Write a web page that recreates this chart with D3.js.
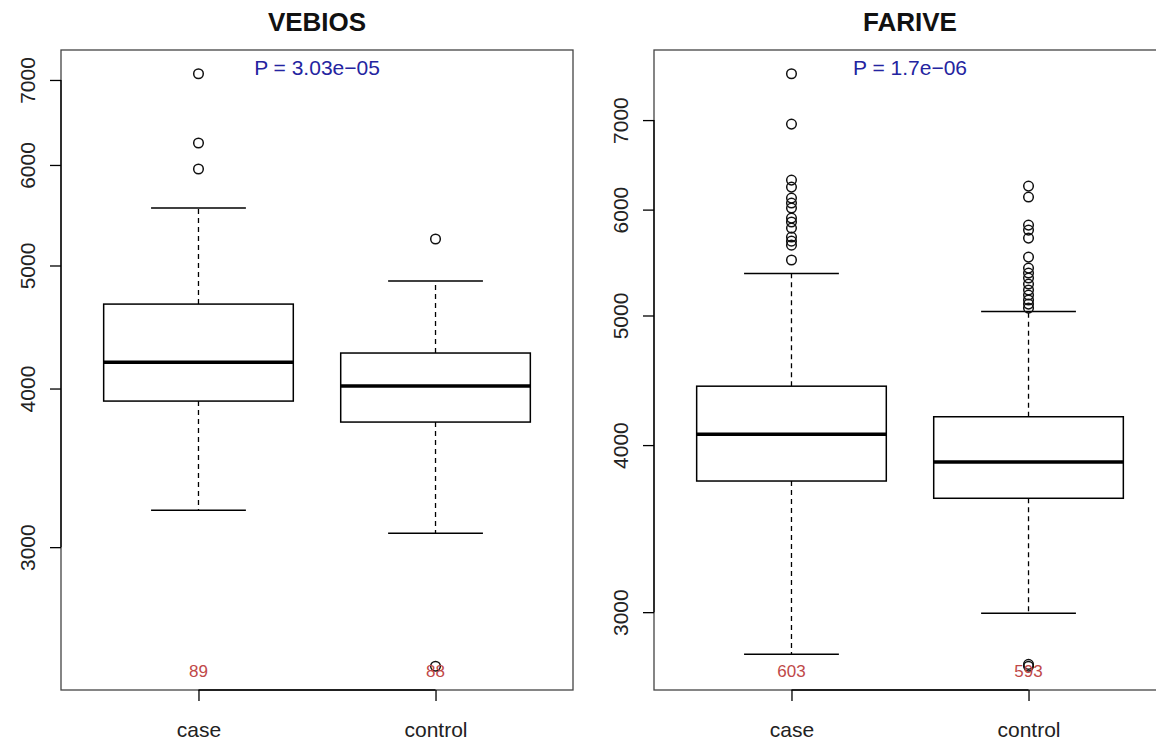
<!DOCTYPE html>
<html>
<head>
<meta charset="utf-8">
<script src="https://cdn.jsdelivr.net/npm/d3@7"></script>
<style>
  body { margin: 0; background: #fff; }
  svg { display: block; font-family: "Liberation Sans", Arial, sans-serif; }
</style>
</head>
<body>
<div class="main"></div>
<script>
// groups on the x axis
let groups = ['case', 'control'];

// five number summaries [lower whisker, Q1, median, Q3, upper whisker] per group
let vebiosStats = [[3208, 3910, 4196, 4662, 5549], [3077, 3764, 4018, 4266, 4861]];
let vebiosOutliers = [[7080, 6244, 5956], [5246, 2417]];
let vebiosN = [89, 88];

let fariveStats = [[2790, 3760, 4076, 4427, 5376], [2995, 3650, 3885, 4200, 5035]];
let fariveOutliers = [
  [7582, 6952, 6313, 6237, 6120, 6068, 6016, 5913, 5873, 5812, 5723, 5683, 5644, 5501],
  [6248, 6131, 5842, 5792, 5713, 5529, 5425, 5379, 5333, 5278, 5224, 5179, 5135, 5099, 5064, 2742, 2733]
];
let fariveN = [603, 593];

let titles = ['VEBIOS', 'FARIVE'];
let pLabels = ['P = 3.03e\u221205', 'P = 1.7e\u221206'];
let yTicks = [3000, 4000, 5000, 6000, 7000];

let svg = d3.select('.main').append('svg')
            .attr('width', 1156)
            .attr('height', 742);

let drawPanel = function(left, title, pLabel, stats, outliers, counts) {
  let top = 50, bottom = 690, width = 512;
  let g = svg.append('g');

  // R style: data range extended 4% on the log scale
  let all = d3.merge(stats.concat(outliers));
  let lo = Math.log(d3.min(all)), hi = Math.log(d3.max(all));
  let pad = (hi - lo) * 0.04;
  let y = d3.scaleLog()
            .domain([Math.exp(lo - pad), Math.exp(hi + pad)])
            .range([bottom, top]);
  let x = d3.scaleLinear()
            .domain([0.42, 2.58])
            .range([left, left + width]);
  let boxW = x(1.4) - x(1);

  // frame
  g.append('rect')
   .attr('x', left).attr('y', top)
   .attr('width', width).attr('height', bottom - top)
   .attr('fill', 'none')
   .attr('stroke', '#444')
   .attr('stroke-width', 1.3);

  // y axis
  let yAxis = d3.axisLeft(y)
                .tickValues(yTicks)
                .tickFormat(d3.format('d'))
                .tickSize(11)
                .tickSizeOuter(0);
  let ya = g.append('g')
            .attr('transform', 'translate(' + left + ',0)')
            .call(yAxis);
  ya.select('.domain')
    .attr('d', 'M0,' + y(yTicks[0]) + 'V' + y(yTicks[yTicks.length - 1]))
    .attr('stroke', '#000').attr('stroke-width', 1.3);
  ya.selectAll('.tick line').attr('stroke', '#000').attr('stroke-width', 1.3);
  ya.selectAll('.tick text')
    .attr('x', null).attr('dy', null)
    .attr('transform', 'translate(-26,0) rotate(-90)')
    .attr('text-anchor', 'middle')
    .attr('font-size', 21)
    .attr('fill', '#222');

  // x axis
  let xAxis = d3.axisBottom(x)
                .tickValues([1, 2])
                .tickFormat((d, i) => groups[i])
                .tickSize(11)
                .tickSizeOuter(0);
  let xa = g.append('g')
            .attr('transform', 'translate(0,' + bottom + ')')
            .call(xAxis);
  xa.select('.domain')
    .attr('d', 'M' + x(1) + ',0H' + x(2))
    .attr('stroke', '#000').attr('stroke-width', 1.5);
  xa.selectAll('.tick line').attr('stroke', '#000').attr('stroke-width', 1.3);
  xa.selectAll('.tick text')
    .attr('y', 47).attr('dy', null)
    .attr('font-size', 21)
    .attr('fill', '#222');

  // boxes
  let boxes = g.selectAll('.box').data(stats).enter().append('g')
               .attr('class', 'box');

  boxes.append('line')
       .attr('x1', (d, i) => x(i + 1)).attr('x2', (d, i) => x(i + 1))
       .attr('y1', d => y(d[3])).attr('y2', d => y(d[4]))
       .attr('stroke', '#000').attr('stroke-width', 1.3)
       .attr('stroke-dasharray', '5,4');
  boxes.append('line')
       .attr('x1', (d, i) => x(i + 1)).attr('x2', (d, i) => x(i + 1))
       .attr('y1', d => y(d[1])).attr('y2', d => y(d[0]))
       .attr('stroke', '#000').attr('stroke-width', 1.3)
       .attr('stroke-dasharray', '5,4');

  // whisker caps
  [0, 4].forEach(k => {
    boxes.append('line')
         .attr('x1', (d, i) => x(i + 1) - boxW / 2).attr('x2', (d, i) => x(i + 1) + boxW / 2)
         .attr('y1', d => y(d[k])).attr('y2', d => y(d[k]))
         .attr('stroke', '#000').attr('stroke-width', 1.5);
  });

  boxes.append('rect')
       .attr('x', (d, i) => x(i + 1) - boxW)
       .attr('y', d => y(d[3]))
       .attr('width', boxW * 2)
       .attr('height', d => y(d[1]) - y(d[3]))
       .attr('fill', '#fff')
       .attr('stroke', '#000').attr('stroke-width', 1.5);

  boxes.append('line')
       .attr('x1', (d, i) => x(i + 1) - boxW).attr('x2', (d, i) => x(i + 1) + boxW)
       .attr('y1', d => y(d[2])).attr('y2', d => y(d[2]))
       .attr('stroke', '#000').attr('stroke-width', 3.5);

  // outliers
  outliers.forEach((arr, i) => {
    g.selectAll('.out' + i).data(arr).enter().append('circle')
     .attr('class', 'out' + i)
     .attr('cx', x(i + 1))
     .attr('cy', d => y(d))
     .attr('r', 4.8)
     .attr('fill', 'none')
     .attr('stroke', '#111')
     .attr('stroke-width', 1.5);
  });

  // group sizes
  g.selectAll('.count').data(counts).enter().append('text')
   .attr('class', 'count')
   .attr('x', (d, i) => x(i + 1))
   .attr('y', 677)
   .attr('text-anchor', 'middle')
   .attr('font-size', 17)
   .attr('fill', '#c04848')
   .text(d => d);

  // titles
  g.append('text')
   .attr('x', left + width / 2).attr('y', 31)
   .attr('text-anchor', 'middle')
   .attr('font-size', 26).attr('font-weight', 'bold')
   .attr('fill', '#111')
   .text(title);

  g.append('text')
   .attr('x', left + width / 2).attr('y', 75)
   .attr('text-anchor', 'middle')
   .attr('font-size', 21)
   .attr('fill', '#2424a0')
   .text(pLabel);
};

drawPanel(61, titles[0], pLabels[0], vebiosStats, vebiosOutliers, vebiosN);
drawPanel(654, titles[1], pLabels[1], fariveStats, fariveOutliers, fariveN);
</script>
</body>
</html>
